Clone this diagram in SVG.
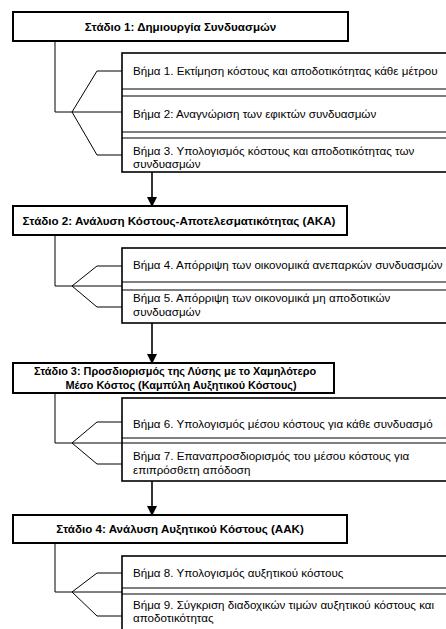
<svg xmlns="http://www.w3.org/2000/svg" width="446" height="629" viewBox="0 0 446 629">
<style>
.stage{fill:#fff;stroke:#000;stroke-width:2}
.cont{fill:#fff;stroke:#000;stroke-width:1.6}
.sep{stroke:#000;stroke-width:1.2;fill:none}
.br{stroke:#000;stroke-width:1;fill:none}
.arr{stroke:#000;stroke-width:1.6;fill:none}
.st{font-family:"Liberation Sans",Arial,sans-serif;font-size:11.6px;font-weight:bold;fill:#000;text-anchor:middle}
.st3{font-size:10.9px}
.sp{font-family:"Liberation Sans",Arial,sans-serif;font-size:11.6px;fill:#000}
</style>
<defs>
<marker id="ah" markerWidth="10" markerHeight="10" refX="9" refY="5" orient="auto" markerUnits="userSpaceOnUse">
<path d="M0,0 L10,5 L0,10 z" fill="#000"/>
</marker>
</defs>
<rect width="446" height="629" fill="#fff"/>

<g id="connectors">
<path class="br" d="M55,41 V112 H72 M97,71 L72,112 L97,155 H122 M97,71 H122 M72,112 H122"/>
<path class="br" d="M55,235 V286 H72 M97,266 L72,286 L97,307 H122 M97,266 H122 M72,286 H122"/>
<path class="br" d="M55,393 V443 H72 M97,422 L72,443 L97,464 H122 M97,422 H122 M72,443 H122"/>
<path class="br" d="M55,543 V592 H72 M97,573 L72,592 L97,616 H122 M97,573 H122 M72,592 H122"/>
<line class="arr" x1="152" y1="172" x2="152" y2="206" marker-end="url(#ah)"/>
<line class="arr" x1="152" y1="323" x2="152" y2="363" marker-end="url(#ah)"/>
<line class="arr" x1="152" y1="481" x2="152" y2="515" marker-end="url(#ah)"/>
</g>

<g id="stage1">
<rect class="stage" x="13" y="12" width="335" height="29"/>
<text class="st" x="180.5" y="30.5">Στάδιο 1: Δημιουργία Συνδυασμών</text>
</g>
<g id="steps1">
<rect class="cont" x="122" y="53" width="340" height="119"/>
<path class="sep" d="M122,89 H450 M122,96 H450 M122,132 H450 M122,138 H450"/>
<text class="sp" x="133" y="75">Βήμα 1. Εκτίμηση κόστους και αποδοτικότητας κάθε μέτρου</text>
<text class="sp" x="133" y="118">Βήμα 2: Αναγνώριση των εφικτών συνδυασμών</text>
<text class="sp" x="133" y="154.5">Βήμα 3. Υπολογισμός κόστους και αποδοτικότητας των</text>
<text class="sp" x="133" y="167.5">συνδυασμών</text>
</g>

<g id="stage2">
<rect class="stage" x="13" y="206" width="334" height="29"/>
<text class="st" x="179" y="224.5">Στάδιο 2: Ανάλυση Κόστους-Αποτελεσματικότητας (ΑΚΑ)</text>
</g>
<g id="steps2">
<rect class="cont" x="122" y="248" width="340" height="75"/>
<path class="sep" d="M122,282 H450 M122,290 H450"/>
<text class="sp" x="133" y="269">Βήμα 4. Απόρριψη των οικονομικά ανεπαρκών συνδυασμών</text>
<text class="sp" x="133" y="302">Βήμα 5. Απόρριψη των οικονομικά μη αποδοτικών</text>
<text class="sp" x="133" y="315.5">συνδυασμών</text>
</g>

<g id="stage3">
<rect class="stage" x="13" y="363" width="321" height="30"/>
<text class="st st3" x="175" y="375">Στάδιο 3: Προσδιορισμός της Λύσης με το Χαμηλότερο</text>
<text class="st st3" x="181" y="388.5">Μέσο Κόστος (Καμπύλη Αυξητικού Κόστους)</text>
</g>
<g id="steps3">
<rect class="cont" x="122" y="398" width="340" height="83"/>
<path class="sep" d="M122,438 H450 M122,443 H450"/>
<text class="sp" x="133" y="428">Βήμα 6. Υπολογισμός μέσου κόστους για κάθε συνδυασμό</text>
<text class="sp" x="133" y="459.5">Βήμα 7. Επαναπροσδιορισμός του μέσου κόστους για</text>
<text class="sp" x="133" y="474">επιπρόσθετη απόδοση</text>
</g>

<g id="stage4">
<rect class="stage" x="13" y="515" width="334" height="28"/>
<text class="st" x="180" y="533">Στάδιο 4: Ανάλυση Αυξητικού Κόστους (ΑΑΚ)</text>
</g>
<g id="steps4">
<rect class="cont" x="122" y="556" width="340" height="90"/>
<path class="sep" d="M122,588 H450 M122,594 H450"/>
<text class="sp" x="133" y="577">Βήμα 8. Υπολογισμός αυξητικού κόστους</text>
<text class="sp" x="133" y="609">Βήμα 9. Σύγκριση διαδοχικών τιμών αυξητικού κόστους και</text>
<text class="sp" x="133" y="622">αποδοτικότητας</text>
</g>
</svg>
